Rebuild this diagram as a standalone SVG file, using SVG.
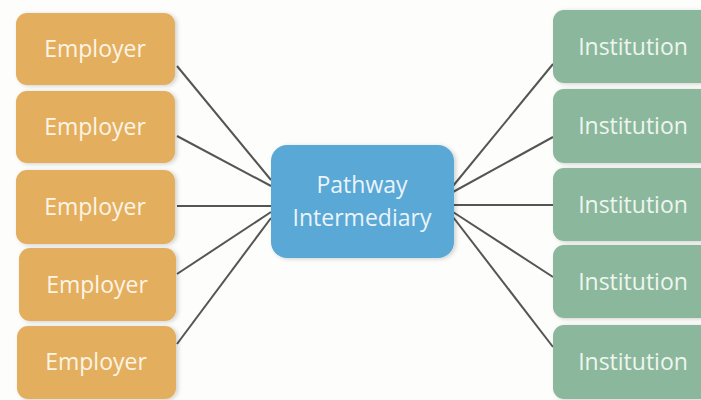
<svg xmlns="http://www.w3.org/2000/svg" width="701" height="400" viewBox="0 0 701 400">
  <defs>
    <filter id="sh" x="-10%" y="-10%" width="125%" height="130%">
      <feDropShadow dx="2" dy="1" stdDeviation="2" flood-color="#000" flood-opacity="0.18"/>
    </filter>
    <style>
      .emp { fill: #E4AE5E; filter: url(#sh); }
      .inst { fill: #8BB89C; filter: url(#sh); }
      .mid { fill: #5AA8D5; filter: url(#sh); }
      .lbl { font-family: "Open Sans", "Liberation Sans", sans-serif; font-size: 23px; text-anchor: middle; }
      .et { fill: #FCF4E4; }
      .it { fill: #EEF5F0; }
      .mt { fill: #EAF4FA; }
      .conn line { stroke: #555; stroke-width: 2; }
    </style>
  </defs>
  <rect width="701" height="400" fill="#FDFDFB"/>
  <g class="conn" id="connectors">
    <line x1="177" y1="66" x2="271" y2="180"/>
    <line x1="177" y1="136" x2="271" y2="186"/>
    <line x1="177" y1="206" x2="271" y2="206"/>
    <line x1="177" y1="274" x2="271" y2="212"/>
    <line x1="177" y1="344" x2="271" y2="218"/>
    <line x1="453" y1="186" x2="553" y2="64"/>
    <line x1="453" y1="192" x2="553" y2="137"/>
    <line x1="453" y1="205" x2="553" y2="205"/>
    <line x1="453" y1="212" x2="553" y2="277"/>
    <line x1="453" y1="217" x2="553" y2="347"/>
  </g>
  <g id="employer1"><rect class="emp" x="16" y="13" width="159" height="72" rx="11"/><text class="lbl et" x="95" y="57">Employer</text></g>
  <g id="employer2"><rect class="emp" x="16" y="91" width="159" height="72" rx="11"/><text class="lbl et" x="95" y="135">Employer</text></g>
  <g id="employer3"><rect class="emp" x="16" y="170" width="159" height="74" rx="11"/><text class="lbl et" x="95" y="215">Employer</text></g>
  <g id="employer4"><rect class="emp" x="19" y="248" width="157" height="73" rx="11"/><text class="lbl et" x="97" y="293">Employer</text></g>
  <g id="employer5"><rect class="emp" x="17" y="326" width="159" height="73" rx="11"/><text class="lbl et" x="96" y="370">Employer</text></g>
  <g id="intermediary"><rect class="mid" x="271" y="145" width="183" height="113" rx="16"/><text class="lbl mt" x="362" y="193">Pathway</text><text class="lbl mt" x="362" y="226">Intermediary</text></g>
  <g id="institution1"><rect class="inst" x="553" y="10" width="160" height="73" rx="11"/><text class="lbl it" x="633" y="55">Institution</text></g>
  <g id="institution2"><rect class="inst" x="553" y="89" width="160" height="74" rx="11"/><text class="lbl it" x="633" y="134">Institution</text></g>
  <g id="institution3"><rect class="inst" x="553" y="168" width="160" height="73" rx="11"/><text class="lbl it" x="633" y="213">Institution</text></g>
  <g id="institution4"><rect class="inst" x="553" y="245" width="160" height="73" rx="11"/><text class="lbl it" x="633" y="290">Institution</text></g>
  <g id="institution5"><rect class="inst" x="553" y="325" width="160" height="74" rx="11"/><text class="lbl it" x="633" y="370">Institution</text></g>
</svg>
